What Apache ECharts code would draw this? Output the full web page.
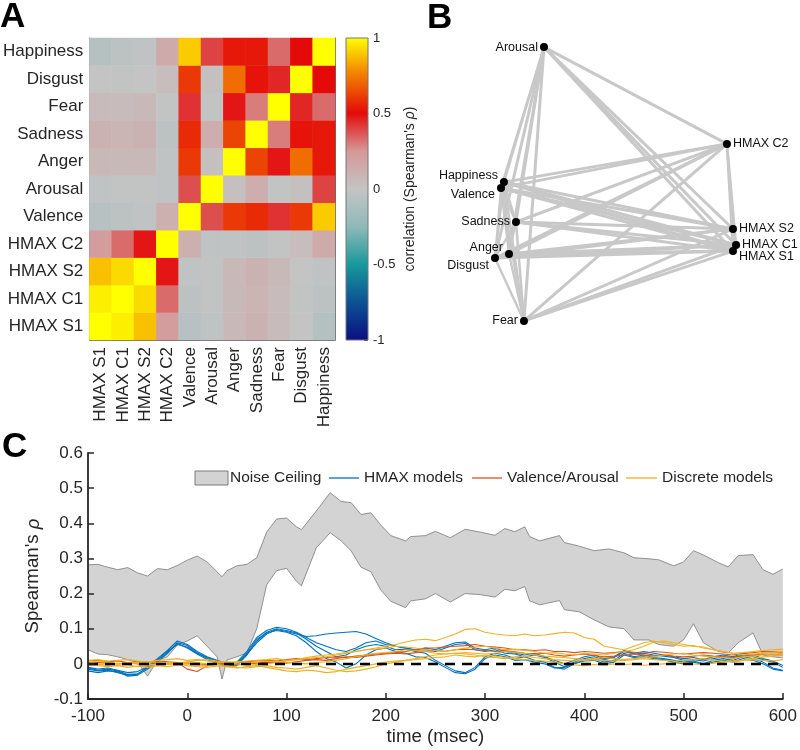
<!DOCTYPE html>
<html><head><meta charset="utf-8">
<script src="https://cdn.jsdelivr.net/npm/echarts@6/dist/echarts.min.js"></script>
<style>html,body{margin:0;padding:0;background:#fff}#c{width:800px;height:750px}</style>
</head><body><div id="c"></div>
<script>
// ---------- Panel A / B data ----------
const modelNames = ['HMAX S1','HMAX C1','HMAX S2','HMAX C2','Valence','Arousal','Anger','Sadness','Fear','Disgust','Happiness'];
const corrS1  = [1, .97, .88, .22, -.06, -.02, .07, .10, .05, .00, -.07];
const corrC1  = [.97, 1, .93, .33, -.04, -.01, .06, .09, .05, -.01, -.04];
const corrS2  = [.88, .93, 1, .48, -.02, -.01, .07, .10, .06, .00, -.02];
const corrC2  = [.22, .33, .48, 1, .12, -.02, -.02, -.04, -.01, .04, .15];
const corrVal = [-.06, -.04, -.02, .12, 1, .38, .60, .57, .43, .60, .90];
const corrAro = [-.02, -.01, -.01, -.02, .38, 1, .03, .13, -.01, .02, .40];
const corrAng = [.07, .06, .07, -.02, .60, .03, 1, .63, .48, .72, .53];
const corrSad = [.10, .09, .10, -.04, .57, .13, .63, 1, .30, .52, .53];
const corrFea = [.05, .05, .06, -.01, .43, -.01, .48, .30, 1, .45, .33];
const corrDis = [.00, -.01, .00, .04, .60, .02, .72, .52, .45, 1, .50];
const corrHap = [-.07, -.04, -.02, .15, .90, .40, .53, .53, .33, .50, 1];
const corrMatrix = [corrS1, corrC1, corrS2, corrC2, corrVal, corrAro, corrAng, corrSad, corrFea, corrDis, corrHap];
const colorbarTicks = [-1, -0.5, 0, 0.5, 1];

// MDS coordinates (panel B), same order as modelNames
const mdsX = [0.807, 0.829, 0.807, 0.764, -0.850, -0.543, -0.793, -0.743, -0.686, -0.893, -0.829];
const mdsY = [-0.426, -0.387, -0.284, 0.265, -0.019, 0.890, -0.445, -0.239, -0.877, -0.471, 0.019];

// ---------- Panel C data ----------
const ncTime  = [-100,-90,-80,-70,-60,-50,-40,-30,-20,-10,0,10,20,30,35,40,50,60,70,80,90,100,110,115,130,144,155,165,175,185,195,205,220,225,240,250,265,280,295,310,320,330,340,345,355,375,380,395,410,425,440,450,465,475,490,500,510,520,535,545,555,570,580,590,600];
const ncUpper = [.282,.283,.275,.268,.274,.259,.25,.271,.268,.28,.295,.307,.29,.262,.248,.265,.279,.283,.302,.375,.412,.415,.39,.382,.435,.487,.462,.459,.425,.43,.395,.365,.35,.362,.365,.377,.359,.383,.375,.366,.385,.376,.39,.362,.35,.365,.345,.335,.322,.327,.316,.302,.299,.296,.279,.29,.322,.31,.288,.276,.308,.311,.268,.255,.27];
const ncLower = [.04,.028,.026,.02,.012,.004,-.035,.01,.02,.054,.065,.08,.05,.02,-.043,.011,.02,.031,.1,.225,.265,.272,.235,.222,.33,.373,.35,.322,.275,.262,.21,.178,.16,.179,.185,.2,.176,.2,.197,.19,.212,.208,.22,.179,.168,.18,.154,.148,.125,.105,.1,.068,.068,.055,.05,.068,.114,.06,.035,.031,.06,.088,.025,.02,.017];

const modelTime = [-100,-90,-80,-70,-60,-50,-40,-30,-20,-10,0,10,20,30,40,50,60,70,80,90,100,110,120,130,140,150,160,170,180,190,200,210,220,230,240,250,260,270,280,290,300,310,320,330,340,350,360,370,380,390,400,410,420,430,440,450,460,470,480,490,500,510,520,530,540,550,560,570,580,590,600];
const hmax1 = [-.012,-.018,-.015,-.02,-.03,-.028,-.012,.012,.035,.055,.048,.03,.018,.008,-.004,.002,.028,.06,.085,.098,.092,.085,.078,.08,.085,.088,.09,.092,.085,.072,.06,.05,.045,.038,.04,.035,.045,.055,.058,.04,.035,.04,.03,.028,.02,.025,.018,.005,-.008,.005,.015,.02,.012,.018,.035,.028,.03,.025,.022,.018,.01,.012,.008,.015,.02,.018,.025,.02,.012,.005,-.01];
const hmax2 = [-.02,-.025,-.02,-.022,-.035,-.032,-.015,.005,.03,.06,.052,.032,.015,.005,-.008,-.005,.025,.065,.09,.1,.095,.088,.07,.05,.035,.02,.025,.04,.05,.055,.05,.04,.042,.035,.03,.01,-.005,-.02,-.025,-.01,.02,.03,.025,.015,.02,.01,.005,-.01,-.015,0,.01,.015,.005,.01,.03,.02,.025,.018,.015,.01,.005,.008,0,.01,.015,.01,.02,.015,.005,-.012,-.018];
const hmax3 = [-.015,-.02,-.018,-.025,-.032,-.03,-.01,.01,.032,.058,.045,.028,.012,.002,-.006,-.002,.03,.07,.088,.095,.09,.08,.06,.035,.015,.005,-.012,0,.025,.04,.045,.035,.03,.02,.018,.005,-.01,-.025,-.028,-.015,.015,.025,.02,.01,.012,.005,0,-.012,-.01,.002,.008,.01,0,.005,.025,.018,.02,.015,.012,.005,0,.005,-.002,.005,.01,.005,.015,.01,0,-.015,-.02];
const hmax4 = [-.01,-.015,-.012,-.018,-.025,-.022,-.008,.015,.038,.065,.055,.035,.02,.01,0,.005,.035,.075,.095,.104,.1,.09,.075,.06,.05,.04,.035,.045,.06,.065,.055,.05,.045,.04,.045,.04,.05,.06,.062,.045,.04,.045,.035,.03,.025,.03,.02,.01,0,.01,.02,.025,.015,.02,.038,.03,.035,.03,.025,.02,.015,.018,.012,.02,.025,.02,.03,.025,.015,.008,-.005];
const valAro1 = [.008,.01,.006,.008,.004,.006,.005,.008,.006,.004,-.015,-.022,-.005,.005,.002,.004,.006,.008,.01,.008,.012,.015,.012,.015,.018,.02,.018,.022,.025,.028,.03,.032,.035,.04,.045,.045,.048,.05,.052,.055,.05,.048,.045,.04,.04,.038,.04,.035,.035,.032,.035,.033,.03,.032,.035,.033,.03,.035,.033,.03,.028,.03,.032,.03,.028,.025,.03,.032,.035,.034,.033];
const valAro2 = [0,.004,.002,0,.003,0,-.002,.002,0,.003,.002,0,-.002,.001,0,-.003,0,.002,.005,.004,.002,.006,.01,.012,.01,.015,.02,.018,.022,.025,.028,.03,.028,.032,.035,.038,.036,.04,.042,.04,.038,.035,.038,.034,.03,.028,.03,.025,.022,.025,.028,.024,.02,.022,.025,.028,.025,.022,.025,.022,.02,.022,.025,.022,.02,.018,.022,.025,.028,.026,.025];
const discrete1 = [.01,.012,.008,.01,.012,.008,.005,.01,.012,.015,.01,.012,.008,.005,.004,.006,.008,.01,.012,.015,.01,.012,.015,.018,.02,.025,.03,.035,.04,.045,.05,.055,.062,.068,.07,.066,.075,.085,.098,.1,.09,.085,.082,.08,.085,.08,.082,.086,.09,.088,.075,.07,.05,.045,.04,.05,.06,.065,.06,.055,.05,.052,.045,.04,.035,.03,.032,.035,.038,.04,.042];
const discrete2 = [.005,0,-.005,.002,-.003,-.008,-.005,0,.004,0,.005,.01,.012,.008,.002,0,-.004,-.002,0,.004,.008,.012,.018,.022,.025,.028,.032,.035,.04,.042,.045,.05,.048,.045,.04,.038,.035,.04,.045,.048,.05,.045,.04,.042,.038,.035,.03,.032,.028,.025,.03,.028,.025,.03,.035,.04,.05,.062,.065,.06,.055,.05,.048,.04,.035,.03,.025,.028,.03,.032,.035];
const discrete3 = [0,-.005,-.008,-.005,-.01,-.006,-.01,-.005,-.008,-.004,0,-.003,-.006,-.002,-.005,-.01,-.012,-.008,-.005,-.01,-.012,-.015,-.01,-.005,-.012,-.018,-.022,-.02,-.015,-.008,0,.005,.01,.012,.015,.018,.02,.025,.022,.02,.025,.022,.018,.015,.012,.01,.008,.005,0,-.003,-.005,-.002,-.004,0,-.002,0,-.004,-.002,0,.002,.004,0,-.002,.002,.005,.008,.01,.012,.01,.008,.012];
const discrete4 = [.004,.008,.005,0,.004,.002,.006,.004,0,.002,.006,.004,0,.002,.006,.004,.002,.005,.008,.006,.004,.002,0,.004,.006,.01,.015,.02,.025,.03,.032,.035,.04,.038,.035,.03,.028,.03,.032,.03,.028,.03,.035,.032,.03,.025,.022,.02,.018,.015,.012,.015,.018,.015,.012,.015,.018,.02,.025,.028,.03,.025,.022,.02,.018,.015,.02,.022,.025,.028,.03];
const discrete5 = [-.005,-.002,.002,-.004,-.002,.003,0,-.004,-.002,0,-.005,-.008,-.01,-.006,-.008,-.012,-.008,-.005,-.01,-.015,-.02,-.022,-.018,-.02,-.025,-.022,-.015,-.01,-.005,0,.005,.008,.01,.015,.02,.025,.028,.03,.028,.025,.02,.018,.015,.02,.022,.018,.015,.012,.01,.008,.01,.012,.01,.008,.01,.012,.015,.012,.01,.008,.01,.012,.015,.01,.008,.005,.01,.015,.02,.022,.025];
const legendNames = ['Noise Ceiling', 'HMAX models', 'Valence/Arousal', 'Discrete models'];

// ---------- styling ----------
const FONT = "'Liberation Sans', Arial, Helvetica, sans-serif";
const TXT = '#262626';
const cmap = ['#0b0f7f','#0c5194','#17999b','#8fb9b8','#c4c4c4','#d59898','#e40a0a','#f27c00','#ffff00'];
const COL_HMAX = '#0072BD', COL_VA = '#D95319', COL_DISC = '#EDB120';
const BAND_FILL = '#d3d3d3', BAND_EDGE = '#7a7a7a';

const heatData = [];
for (let i = 0; i < modelNames.length; i++)
  for (let j = 0; j < modelNames.length; j++)
    heatData.push([i, j, corrMatrix[j][i]]);

const labelPlace = {
  'Arousal': ['left', [0, 0]], 'Happiness': ['left', [0, -7]], 'Valence': ['left', [0, 7]],
  'Sadness': ['left', [0, 0]], 'Anger': ['left', [0, -6]], 'Disgust': ['left', [0, 8]],
  'Fear': ['left', [0, 0]], 'HMAX C2': ['right', [0, 0]], 'HMAX S2': ['right', [0, 0]],
  'HMAX C1': ['right', [0, 0]], 'HMAX S1': ['right', [0, 6]]
};
const graphNodes = modelNames.map((nm, k) => ({
  name: nm, value: [mdsX[k], mdsY[k]],
  label: { position: labelPlace[nm][0], offset: labelPlace[nm][1] }
}));
const graphLinks = [];
for (let i = 0; i < modelNames.length; i++)
  for (let j = i + 1; j < modelNames.length; j++)
    graphLinks.push({ source: modelNames[i], target: modelNames[j],
      lineStyle: { width: Math.max(1.5, 1.6 + 1.4 * (1 - corrMatrix[i][j])) } });

const catTick = { inside: true, alignWithLabel: true, length: 4, lineStyle: { color: '#555' } };
const catLine = { show: true, lineStyle: { color: '#6a6a6a', width: 1 } };
const stops = cmap.slice().reverse().map((c, k) => ({ offset: k / (cmap.length - 1), color: c }));

function zip(t, v) { return t.map((x, k) => [x, v[k]]); }
function modelLine(name, arr, color) {
  return {
    type: 'line', name: name, xAxisIndex: 4, yAxisIndex: 4, data: zip(modelTime, arr),
    symbol: 'none', showSymbol: false, silent: true, z: 4,
    lineStyle: { color: color, width: 1.1 }, itemStyle: { color: color }
  };
}
function edgeLine(arr) {
  return { type: 'line', xAxisIndex: 4, yAxisIndex: 4, data: zip(ncTime, arr), symbol: 'none',
    silent: true, z: 2, lineStyle: { color: BAND_EDGE, width: 0.8 }, itemStyle: { color: BAND_EDGE } };
}

const series = [
  { type: 'heatmap', xAxisIndex: 0, yAxisIndex: 0, data: heatData, silent: true,
    itemStyle: { borderWidth: 0 }, emphasis: { disabled: true } },
  { type: 'custom', xAxisIndex: 2, yAxisIndex: 2, data: [[0, 0]], silent: true,
    renderItem: function (params, api) {
      const top = api.coord([0, 1]); const bot = api.coord([0, -1]);
      const w = api.size([1, 0])[0];
      return { type: 'rect', shape: { x: top[0] - w / 2, y: top[1], width: w, height: bot[1] - top[1] },
        style: { fill: new echarts.graphic.LinearGradient(0, 0, 0, 1, stops), stroke: '#777', lineWidth: 1 } };
    } },
  { type: 'graph', coordinateSystem: 'cartesian2d', xAxisIndex: 3, yAxisIndex: 3,
    data: graphNodes, links: graphLinks, symbol: 'circle', symbolSize: 8, silent: true,
    itemStyle: { color: '#000' }, lineStyle: { color: '#c8c8c8', opacity: 1, curveness: 0 },
    label: { show: true, fontSize: 12.5, color: '#111', fontFamily: FONT, distance: 2 },
    emphasis: { disabled: true } },
  { type: 'custom', name: 'Noise Ceiling', xAxisIndex: 4, yAxisIndex: 4, data: [[0, 0]], silent: true, z: 1,
    renderItem: function (params, api) {
      const pts = ncTime.map((t, k) => api.coord([t, ncUpper[k]]));
      for (let k = ncTime.length - 1; k >= 0; k--) pts.push(api.coord([ncTime[k], ncLower[k]]));
      return { type: 'polygon', shape: { points: pts }, style: { fill: BAND_FILL } };
    } },
  edgeLine(ncUpper), edgeLine(ncLower),
  { type: 'line', name: 'zero', xAxisIndex: 4, yAxisIndex: 4, data: [], silent: true, z: 3,
    markLine: { silent: true, symbol: 'none', label: { show: false },
      lineStyle: { color: '#000', type: [10, 7], width: 2.3 }, data: [{ yAxis: 0 }] } },
  modelLine('HMAX models', hmax1, COL_HMAX), modelLine('HMAX models', hmax2, COL_HMAX),
  modelLine('HMAX models', hmax3, COL_HMAX), modelLine('HMAX models', hmax4, COL_HMAX),
  modelLine('Valence/Arousal', valAro1, COL_VA), modelLine('Valence/Arousal', valAro2, COL_VA),
  modelLine('Discrete models', discrete1, COL_DISC), modelLine('Discrete models', discrete2, COL_DISC),
  modelLine('Discrete models', discrete3, COL_DISC), modelLine('Discrete models', discrete4, COL_DISC),
  modelLine('Discrete models', discrete5, COL_DISC)
];

// legend for panel C (drawn as graphic items)
const LEG_Y = 478;
const legFont = "15.5px 'Liberation Sans', Arial";
const legendGraphic = [
  { type: 'rect', shape: { x: 195, y: LEG_Y - 7, width: 33, height: 14 }, style: { fill: BAND_FILL, stroke: BAND_EDGE, lineWidth: 1 } },
  { type: 'text', x: 230, y: LEG_Y, style: { text: legendNames[0], font: legFont, fill: TXT, verticalAlign: 'middle' } },
  { type: 'line', shape: { x1: 329, y1: LEG_Y, x2: 359, y2: LEG_Y }, style: { stroke: COL_HMAX, lineWidth: 1.3 } },
  { type: 'text', x: 364, y: LEG_Y, style: { text: legendNames[1], font: legFont, fill: TXT, verticalAlign: 'middle' } },
  { type: 'line', shape: { x1: 472, y1: LEG_Y, x2: 502, y2: LEG_Y }, style: { stroke: COL_VA, lineWidth: 1.3 } },
  { type: 'text', x: 507, y: LEG_Y, style: { text: legendNames[2], font: legFont, fill: TXT, verticalAlign: 'middle' } },
  { type: 'line', shape: { x1: 626, y1: LEG_Y, x2: 657, y2: LEG_Y }, style: { stroke: COL_DISC, lineWidth: 1.3 } },
  { type: 'text', x: 662, y: LEG_Y, style: { text: legendNames[3], font: legFont, fill: TXT, verticalAlign: 'middle' } }
].map(g => Object.assign({ z: 20, silent: true }, g));

const option = {
  animation: false,
  backgroundColor: '#fff',
  textStyle: { fontFamily: FONT },
  grid: [
    { left: 88, top: 38, width: 247, height: 302 },
    { left: 346, top: 38, width: 22, height: 302 },
    { left: 480, top: 30, width: 280, height: 310 },
    { left: 88, top: 453, width: 700, height: 246 }
  ],
  visualMap: [{ type: 'continuous', min: -1, max: 1, seriesIndex: 0, show: false, inRange: { color: cmap } }],
  xAxis: [
    { gridIndex: 0, type: 'category', data: modelNames, position: 'bottom',
      axisLabel: { rotate: 90, interval: 0, fontSize: 17, color: TXT, margin: 7, fontFamily: FONT },
      axisTick: catTick, axisLine: catLine, splitLine: { show: false } },
    { gridIndex: 0, type: 'category', data: modelNames, position: 'top',
      axisLabel: { show: false }, axisTick: catTick, axisLine: catLine, splitLine: { show: false } },
    { gridIndex: 1, type: 'category', data: ['cb'], show: false },
    { gridIndex: 2, type: 'value', min: -1, max: 1, show: false },
    { gridIndex: 3, type: 'value', min: -100, max: 600, interval: 100, z: 10,
      axisLine: { show: true, onZero: false, lineStyle: { color: TXT, width: 1.8 } },
      axisTick: { show: true, inside: true, length: 6, lineStyle: { color: TXT, width: 1.5 } },
      axisLabel: { fontSize: 17, color: TXT, margin: 9, fontFamily: FONT },
      splitLine: { show: false },
      name: 'time (msec)', nameLocation: 'middle', nameGap: 28,
      nameTextStyle: { fontSize: 18.7, color: TXT, fontFamily: FONT } }
  ],
  yAxis: [
    { gridIndex: 0, type: 'category', data: modelNames, position: 'left',
      axisLabel: { interval: 0, fontSize: 17, color: TXT, margin: 6, fontFamily: FONT },
      axisTick: catTick, axisLine: catLine, splitLine: { show: false } },
    { gridIndex: 0, type: 'category', data: modelNames, position: 'right',
      axisLabel: { show: false }, axisTick: catTick, axisLine: catLine, splitLine: { show: false } },
    { gridIndex: 1, type: 'value', min: -1, max: 1, interval: 0.5, position: 'right',
      axisLine: { show: false }, splitLine: { show: false },
      axisTick: { show: true, inside: true, length: 4, lineStyle: { color: '#555' } },
      axisLabel: { fontSize: 13, color: TXT, margin: 5, fontFamily: FONT },
      name: "correlation (Spearman's {i|ρ})", nameLocation: 'middle', nameRotate: 90, nameGap: 35,
      nameTextStyle: { fontSize: 14, color: TXT, fontFamily: FONT,
        rich: { i: { fontStyle: 'italic', fontSize: 14, color: TXT, fontFamily: FONT } } } },
    { gridIndex: 2, type: 'value', min: -1, max: 1, show: false },
    { gridIndex: 3, type: 'value', min: -0.1, max: 0.6, interval: 0.1, z: 10,
      axisLine: { show: true, onZero: false, lineStyle: { color: TXT, width: 1.8 } },
      axisTick: { show: true, inside: true, length: 6, lineStyle: { color: TXT, width: 1.5 } },
      axisLabel: { fontSize: 17, color: TXT, margin: 5, fontFamily: FONT },
      splitLine: { show: false },
      name: "Spearman's {i|ρ}", nameLocation: 'middle', nameGap: 40,
      nameTextStyle: { fontSize: 18.7, color: TXT, fontFamily: FONT,
        rich: { i: { fontStyle: 'italic', fontSize: 18.7, color: TXT, fontFamily: FONT } } } }
  ],
  graphic: [
    { type: 'text', x: 0, y: 0, style: { text: 'A', font: "bold 35px 'Liberation Sans', Arial", fill: '#000', verticalAlign: 'top' } },
    { type: 'text', x: 427, y: 1, style: { text: 'B', font: "bold 35px 'Liberation Sans', Arial", fill: '#000', verticalAlign: 'top' } },
    { type: 'text', x: 2, y: 430, style: { text: 'C', font: "bold 35px 'Liberation Sans', Arial", fill: '#000', verticalAlign: 'top' } }
  ].concat(legendGraphic),
  series: series
};

const chart = echarts.init(document.getElementById('c'));
chart.setOption(option);
</script>
</body></html>
